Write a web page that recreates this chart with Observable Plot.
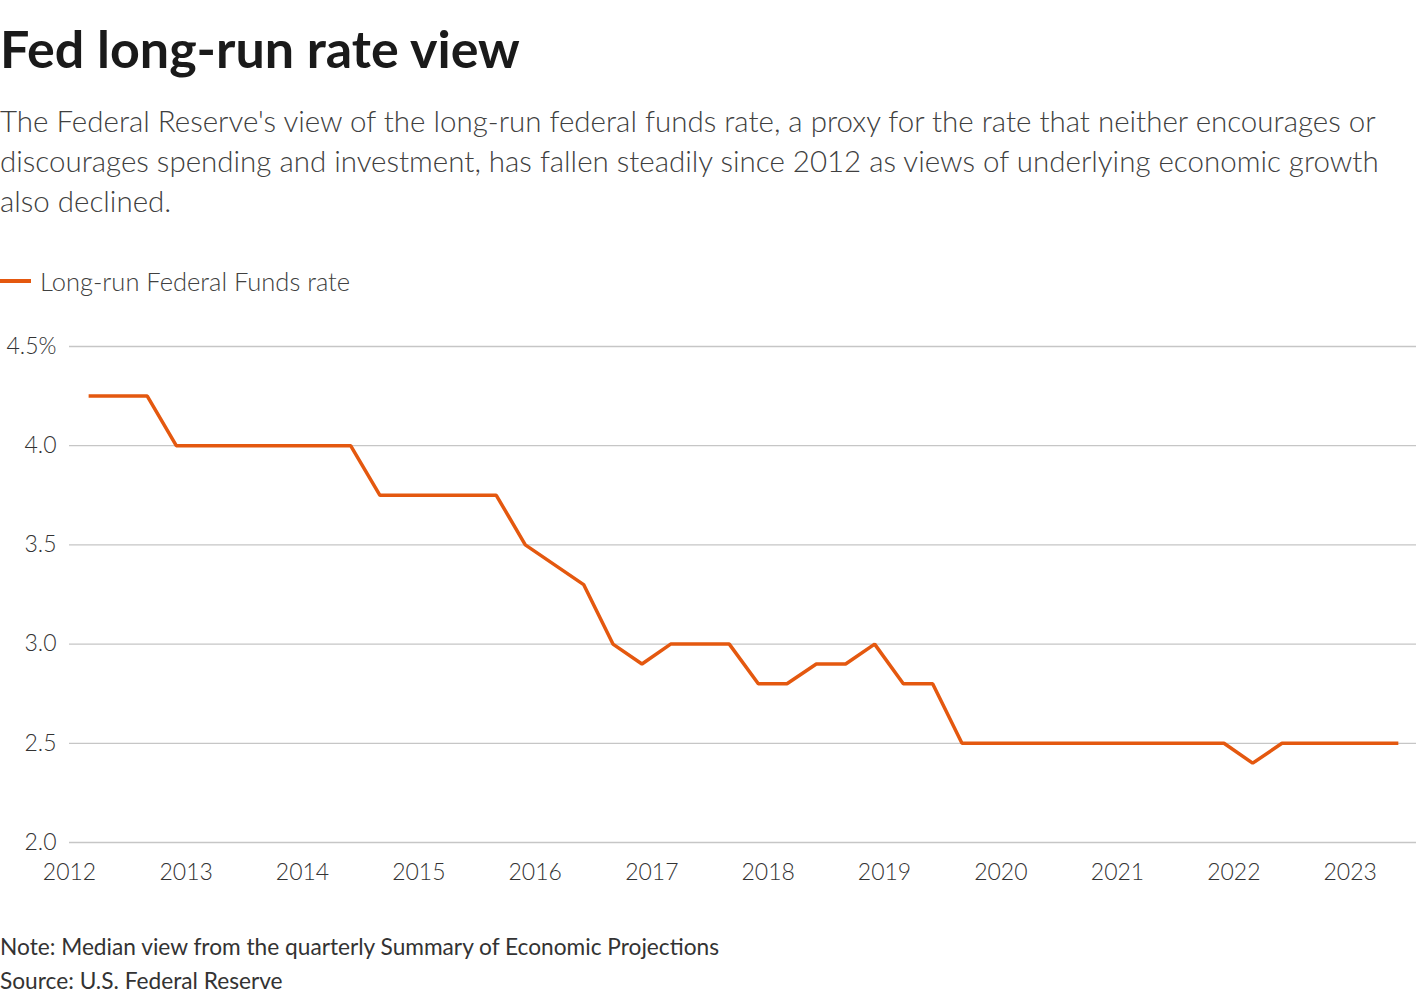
<!DOCTYPE html>
<html>
<head>
<meta charset="utf-8">
<script src="https://cdn.jsdelivr.net/npm/d3@7"></script>
<script src="https://cdn.jsdelivr.net/npm/@observablehq/plot@0.6"></script>
<style>
  html, body { margin: 0; padding: 0; background: #fff; }
  body { width: 1420px; font-family: "Source Sans Pro", Lato, "Open Sans", sans-serif; color: #1a1a1a; }
  #title { position: absolute; left: 0; top: 16px; font-size: 52px; font-weight: 700; line-height: 64px; color: #1a1a1a; margin: 0; }
  #subtitle { position: absolute; left: 0; top: 101px; width: 1415px; font-size: 29.5px; font-weight: 300; line-height: 40px; color: #404040; }
  #legend { position: absolute; left: 0; top: 266px; font-size: 25.5px; font-weight: 300; color: #404040; display: flex; align-items: center; }
  #legend .sw { width: 31px; height: 3.5px; background: #e4580f; margin-right: 9px; }
  #chart { position: absolute; left: 0; top: 320px; }
  #note { position: absolute; left: 0; top: 930px; font-size: 22.7px; color: #333; line-height: 34px; }
</style>
</head>
<body>
<div id="title">Fed long-run rate view</div>
<div id="subtitle">The Federal Reserve's view of the long-run federal funds rate, a proxy for the rate that neither encourages or discourages spending and investment, has fallen steadily since 2012 as views of underlying economic growth also declined.</div>
<div id="legend"><span class="sw"></span><span>Long-run Federal Funds rate</span></div>
<div id="chart"></div>
<div id="note">Note: Median view from the quarterly Summary of Economic Projections<br>Source: U.S. Federal Reserve</div>
<script>
const dates = [
  "2012-03-01","2012-06-01","2012-09-01","2012-12-01",
  "2013-03-01","2013-06-01","2013-09-01","2013-12-01",
  "2014-03-01","2014-06-01","2014-09-01","2014-12-01",
  "2015-03-01","2015-06-01","2015-09-01","2015-12-01",
  "2016-06-01","2016-09-01","2016-12-01",
  "2017-03-01","2017-06-01","2017-09-01","2017-12-01",
  "2018-03-01","2018-06-01","2018-09-01","2018-12-01",
  "2019-03-01","2019-06-01","2019-09-01","2019-12-01",
  "2020-03-01","2020-06-01","2020-09-01","2020-12-01",
  "2021-03-01","2021-06-01","2021-09-01","2021-12-01",
  "2022-03-01","2022-06-01","2022-09-01","2022-12-01",
  "2023-03-01","2023-06-01"
];
const rates = [
  4.25, 4.25, 4.25, 4.0,
  4.0, 4.0, 4.0, 4.0,
  4.0, 4.0, 3.75, 3.75,
  3.75, 3.75, 3.75, 3.5,
  3.3, 3.0, 2.9,
  3.0, 3.0, 3.0, 2.8,
  2.8, 2.9, 2.9, 3.0,
  2.8, 2.8, 2.5, 2.5,
  2.5, 2.5, 2.5, 2.5,
  2.5, 2.5, 2.5, 2.5,
  2.4, 2.5, 2.5, 2.5,
  2.5, 2.5
];
const yTicks = [2.0, 2.5, 3.0, 3.5, 4.0, 4.5];
const xTickYears = [2012,2013,2014,2015,2016,2017,2018,2019,2020,2021,2022,2023];

const data = dates.map((d, i) => ({date: new Date(d + "T00:00:00Z"), value: rates[i]}));
const xTicks = xTickYears.map(y => new Date(Date.UTC(y, 0, 1)));

const chart = Plot.plot({
  width: 1420,
  height: 580,
  marginTop: 26,
  marginBottom: 58,
  marginLeft: 69,
  marginRight: 4,
  style: {fontFamily: '"Source Sans Pro", Lato, "Open Sans", sans-serif', fontSize: "23px", color: "#333", background: "#fff"},
  x: {type: "utc", domain: [new Date(Date.UTC(2012,0,1)), new Date(Date.UTC(2023,6,28))], label: null},
  y: {domain: [2.0, 4.5], label: null},
  marks: [
    Plot.gridY(yTicks, {stroke: "#c6c6c6", strokeOpacity: 1, strokeWidth: 1.3}),
    Plot.axisY(yTicks, {tickSize: 0, tickPadding: 13, fontSize: 23, fontWeight: 300, fill: "#333", label: null,
      tickFormat: d => d === 4.5 ? "4.5%" : d.toFixed(1)}),
    Plot.axisX(xTicks, {tickSize: 0, tickPadding: 21, fontSize: 23, fontWeight: 300, fill: "#333", label: null,
      tickFormat: d => String(d.getUTCFullYear())}),
    Plot.line(data, {x: "date", y: "value", stroke: "#e4580f", strokeWidth: 3.5, strokeLinejoin: "miter", strokeLinecap: "butt"})
  ]
});
document.getElementById("chart").appendChild(chart);
</script>
</body>
</html>
